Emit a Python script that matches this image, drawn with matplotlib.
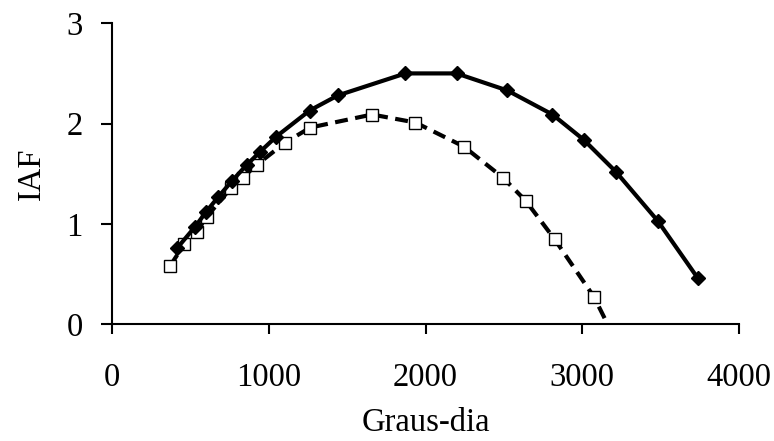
import matplotlib.pyplot as plt

plt.rcParams["font.family"] = ["Liberation Serif", "DejaVu Serif"]

# serie 1 (losangos, linha cheia)
gd_1 = [417, 530, 601, 679, 767, 861, 946, 1048, 1261, 1440, 1872, 2198, 2522, 2810, 3008, 3214, 3481, 3736]
iaf_1 = [0.76, 0.97, 1.12, 1.27, 1.43, 1.59, 1.72, 1.87, 2.13, 2.28, 2.50, 2.50, 2.33, 2.09, 1.84, 1.52, 1.03, 0.46]

# serie 2 (quadrados, linha tracejada)
gd_2 = [371, 462, 541, 605, 760, 833, 925, 1105, 1265, 1659, 1936, 2245, 2494, 2639, 2824, 3075]
iaf_2 = [0.58, 0.80, 0.92, 1.07, 1.36, 1.46, 1.59, 1.81, 1.96, 2.09, 2.01, 1.77, 1.46, 1.23, 0.845, 0.27]

# a linha tracejada continua ate o eixo
fim_x = [3161]
fim_y = [0]

xticks = [0, 1000, 2000, 3000, 4000]
yticks = [0, 1, 2, 3]

fig = plt.figure(figsize=(7.74, 4.41), dpi=100)
ax = fig.add_axes([112 / 774, 1 - 324 / 441, (739 - 112) / 774, (324 - 23.3) / 441])

ax.plot(gd_2 + fim_x, iaf_2 + fim_y, color="black", lw=3, dashes=(3.1, 1.8), zorder=2)
ax.plot(gd_2, iaf_2, ls="none", marker="s", ms=8.5, mfc="white", mec="black", mew=1, zorder=3)
ax.plot(gd_1, iaf_1, color="black", lw=3, marker="D", ms=7.5, mfc="black", mec="black", zorder=4)

ax.set_xlim(0, 4000)
ax.set_ylim(0, 3)
ax.set_xticks(xticks)
ax.set_yticks(yticks)

for s in ["top", "right"]:
    ax.spines[s].set_visible(False)
for s in ["left", "bottom"]:
    ax.spines[s].set_linewidth(1.5)

ax.tick_params(axis="x", direction="out", length=7, width=1.5, labelsize=23.5, pad=21)
ax.tick_params(axis="y", direction="out", length=8, width=1.5, labelsize=23.5, pad=13)

ax.set_xlabel("Graus-dia", fontsize=23.5, labelpad=10)
ax.set_ylabel("IAF", fontsize=23.5, labelpad=14)

fig.savefig("out.png", dpi=100)
